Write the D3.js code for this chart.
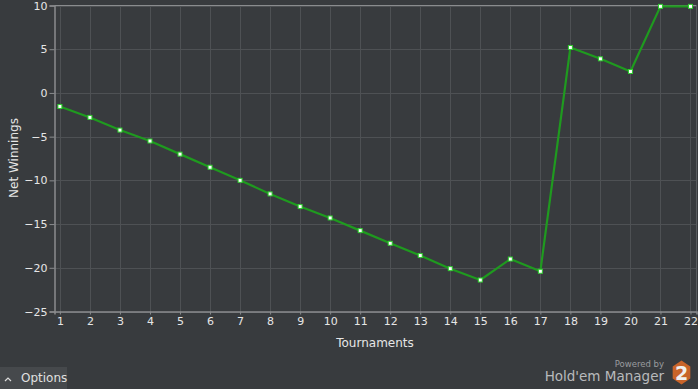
<!DOCTYPE html>
<html><head><meta charset="utf-8">
<script src="https://cdn.jsdelivr.net/npm/d3@7"></script>
<style>
html,body{margin:0;padding:0;background:#383b3e;overflow:hidden;}
svg{display:block;font-family:"DejaVu Sans",Verdana,sans-serif;}
</style></head>
<body>
<svg id="chart" width="698" height="389"></svg>
<script>
const tournaments = [1,2,3,4,5,6,7,8,9,10,11,12,13,14,15,16,17,18,19,20,21,22];
const netWinnings = [-1.55,-2.8,-4.25,-5.5,-7.0,-8.5,-10.0,-11.55,-13.0,-14.3,-15.75,-17.2,-18.6,-20.1,-21.4,-19.0,-20.4,5.2,3.9,2.45,9.9,9.9];
const yTicks = [10,5,0,-5,-10,-15,-20,-25];
const xLabel = "Tournaments";
const yLabel = "Net Winnings";

const svg = d3.select("#chart");
const L = 54.5, R = 696.5, T = 5.5, B = 311.5;
const x = d3.scaleLinear().domain([0.82, 22.2]).range([L, R]);
const y = d3.scaleLinear().domain([-25, 10]).range([B, T]);

svg.append("rect").attr("width",698).attr("height",389).attr("fill","#383b3e");

// grid
const g = svg.append("g");
g.selectAll("line.vg").data(tournaments).enter().append("line")
  .attr("x1", d=>Math.round(x(d))+0.5).attr("x2", d=>Math.round(x(d))+0.5)
  .attr("y1", T).attr("y2", B).attr("stroke","#4e5154").attr("stroke-width",1);
g.selectAll("line.hg").data(yTicks).enter().append("line")
  .attr("y1", d=>Math.round(y(d))+0.5).attr("y2", d=>Math.round(y(d))+0.5)
  .attr("x1", L).attr("x2", R).attr("stroke","#4e5154").attr("stroke-width",1);

// frame
svg.append("line").attr("x1",L).attr("x2",R).attr("y1",T).attr("y2",T).attr("stroke","#8a8c8e");
svg.append("line").attr("x1",R).attr("x2",R).attr("y1",T).attr("y2",B).attr("stroke","#5a5d60");

// axes
const yAxis = d3.axisLeft(y).tickValues(yTicks).tickSize(5).tickPadding(2).tickFormat(d3.format("d"));
const ya = svg.append("g").attr("transform",`translate(${L},0)`).call(yAxis);
const xAxis = d3.axisBottom(x).tickValues(tournaments).tickSize(3).tickPadding(3).tickFormat(d3.format("d"));
const xa = svg.append("g").attr("transform",`translate(0,${B})`).call(xAxis);
[ya,xa].forEach(a=>{
  a.select(".domain").attr("stroke","#8a8c8e").attr("stroke-width",1.5);
  a.selectAll(".tick line").attr("stroke","#8a8c8e");
  a.selectAll(".tick text").attr("fill","#e6e6e6").attr("font-size",11).attr("font-family","DejaVu Sans, Verdana, sans-serif");
});

// axis labels
svg.append("text").attr("x",375).attr("y",347).attr("text-anchor","middle")
  .attr("fill","#e6e6e6").attr("font-size",12).text(xLabel);
svg.append("text").attr("transform","translate(18,158) rotate(-90)").attr("text-anchor","middle")
  .attr("fill","#e6e6e6").attr("font-size",12).text(yLabel);

// line
const line = d3.line().x((d,i)=>x(tournaments[i])).y(d=>y(d));
svg.append("path").datum(netWinnings).attr("d",line).attr("fill","none")
  .attr("stroke","#1f9a1f").attr("stroke-width",2.2).attr("stroke-linejoin","round");
svg.selectAll("rect.pt").data(netWinnings).enter().append("rect")
  .attr("x",(d,i)=>x(tournaments[i])-2).attr("y",d=>y(d)-2).attr("width",4).attr("height",4)
  .attr("fill","#ffffff").attr("stroke","#2ecc2e").attr("stroke-width",1);

// options button
svg.append("rect").attr("x",0).attr("y",367).attr("width",67).attr("height",22).attr("fill","#46494c");
svg.append("path").attr("d","M5,381 L8,378 L11,381").attr("fill","none").attr("stroke","#dcdcdc").attr("stroke-width",1.2);
svg.append("text").attr("x",21).attr("y",382).attr("fill","#e0e0e0").attr("font-size",12).text("Options");

// logo
svg.append("text").attr("x",664).attr("y",367).attr("text-anchor","end").attr("fill","#9a9c9e").attr("font-size",8.5).text("Powered by");
svg.append("text").attr("x",664).attr("y",381).attr("text-anchor","end").attr("fill","#b8babc").attr("font-size",13.5).text("Hold'em Manager");
const hx=681.5, hy=372.5, hr=12;
const hex = d3.range(6).map(i=>{const a=Math.PI/3*i+Math.PI/6; return [hx+hr*0.85*Math.cos(a), hy+hr*Math.sin(a)];});
svg.append("path").attr("d","M"+hex.map(p=>p.join(",")).join("L")+"Z").attr("fill","#c8642a");
svg.append("text").attr("x",hx).attr("y",hy+7).attr("text-anchor","middle").attr("fill","#f0f0f0")
  .attr("font-size",19).attr("font-weight","bold").text("2");
</script>
</body></html>
